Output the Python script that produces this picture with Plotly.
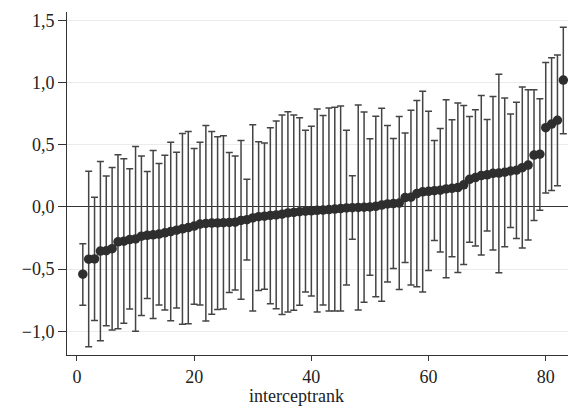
import plotly.graph_objects as go

# Ranked intercepts with 95% intervals
rank = list(range(1, 84))

estimate = [
    -0.54, -0.42, -0.418, -0.355, -0.352, -0.335, -0.28, -0.275, -0.262, -0.257,
    -0.235, -0.228, -0.224, -0.218, -0.208, -0.198, -0.187, -0.176, -0.166, -0.154,
    -0.138, -0.133, -0.130, -0.128, -0.126, -0.124, -0.122, -0.108, -0.102, -0.088,
    -0.078, -0.074, -0.068, -0.064, -0.058, -0.048, -0.044, -0.038, -0.034, -0.031,
    -0.027, -0.025, -0.021, -0.017, -0.013, -0.008, -0.006, -0.004, -0.002, 0.0,
    0.005, 0.015, 0.024, 0.027, 0.031, 0.075, 0.078, 0.108, 0.122, 0.126,
    0.131, 0.135, 0.145, 0.150, 0.156, 0.178, 0.222, 0.236, 0.252, 0.258,
    0.270, 0.272, 0.279, 0.289, 0.295, 0.316, 0.337, 0.417, 0.424, 0.637,
    0.666, 0.697, 1.02,
]

upper = [
    -0.295, 0.286, 0.077, 0.366, 0.248, 0.318, 0.42, 0.387, 0.307, 0.486,
    0.41, 0.285, 0.454, 0.35, 0.415, 0.521, 0.44, 0.59, 0.606, 0.47,
    0.521, 0.654, 0.606, 0.565, 0.572, 0.437, 0.409, 0.534, 0.222, 0.66,
    0.524, 0.514, 0.637, 0.69, 0.74, 0.765, 0.74, 0.717, 0.617, 0.649,
    0.788, 0.735, 0.795, 0.801, 0.812, 0.617, 0.25, 0.82, 0.764, 0.548,
    0.729, 0.793, 0.654, 0.55, 0.728, 0.595, 0.778, 0.855, 0.929, 0.77,
    0.534, 0.63, 0.861, 0.70, 0.836, 0.815, 0.727, 0.781, 0.895, 0.702,
    0.887, 1.067, 0.876, 0.748, 0.841, 0.965, 0.942, 0.942, 0.87, 1.162,
    1.2, 1.222, 1.445,
]

lower = [
    -0.79, -1.124, -0.913, -1.075, -0.954, -0.99, -0.98, -0.935, -0.82, -1.0,
    -0.873, -0.735, -0.897, -0.788, -0.828, -0.915, -0.812, -0.943, -0.938, -0.782,
    -0.788, -0.916, -0.863, -0.824, -0.82, -0.688, -0.668, -0.742, -0.427, -0.836,
    -0.672, -0.661, -0.778, -0.818, -0.865, -0.845, -0.83, -0.79, -0.684, -0.715,
    -0.844, -0.788, -0.836, -0.836, -0.836, -0.628, -0.26, -0.828, -0.767, -0.548,
    -0.721, -0.758, -0.604, -0.494, -0.664, -0.446, -0.628, -0.641, -0.683, -0.51,
    -0.27, -0.363, -0.569, -0.40, -0.527, -0.462, -0.283, -0.313, -0.387, -0.193,
    -0.347, -0.529, -0.32, -0.166, -0.254, -0.33, -0.266, -0.108, -0.027, 0.112,
    0.132, 0.171, 0.589,
]

y_ticks = [-1.0, -0.5, 0.0, 0.5, 1.0, 1.5]
x_ticks = [0, 20, 40, 60, 80]
x_title = "interceptrank"

err_plus = [u - e for u, e in zip(upper, estimate)]
err_minus = [e - l for e, l in zip(estimate, lower)]

fig = go.Figure(
    go.Scatter(
        x=rank,
        y=estimate,
        mode="markers",
        marker=dict(color="#2e2e2e", size=9.5),
        error_y=dict(
            type="data",
            symmetric=False,
            array=err_plus,
            arrayminus=err_minus,
            color="#444444",
            thickness=1.5,
            width=3.5,
        ),
        showlegend=False,
    )
)

serif = "Liberation Serif, Times New Roman, serif"
axis_font = dict(family=serif, size=18, color="#222222")

fig.update_layout(
    width=568,
    height=408,
    margin=dict(l=67, r=0, t=12, b=53),
    paper_bgcolor="white",
    plot_bgcolor="white",
    separators=",.",
    font=axis_font,
    xaxis=dict(
        range=[-1.7, 83.8],
        tickvals=x_ticks,
        showgrid=False,
        zeroline=False,
        showline=True,
        linecolor="#333333",
        linewidth=1,
        ticks="outside",
        ticklen=5,
        tickcolor="#333333",
        tickfont=axis_font,
    ),
    yaxis=dict(
        range=[-1.19, 1.567],
        tickvals=y_ticks,
        tickformat=".1f",
        showgrid=True,
        gridcolor="#ebebeb",
        gridwidth=1,
        zeroline=True,
        zerolinecolor="#333333",
        zerolinewidth=1,
        showline=True,
        linecolor="#333333",
        linewidth=1,
        ticks="outside",
        ticklen=8,
        tickcolor="#333333",
        tickfont=axis_font,
    ),
    annotations=[
        dict(
            text=x_title,
            xref="paper",
            yref="paper",
            x=0.459,
            y=-0.1516,
            xanchor="center",
            yanchor="bottom",
            borderpad=0,
            showarrow=False,
            font=dict(family=serif, size=18, color="#222222"),
        )
    ],
)

fig.write_html("out.html")
